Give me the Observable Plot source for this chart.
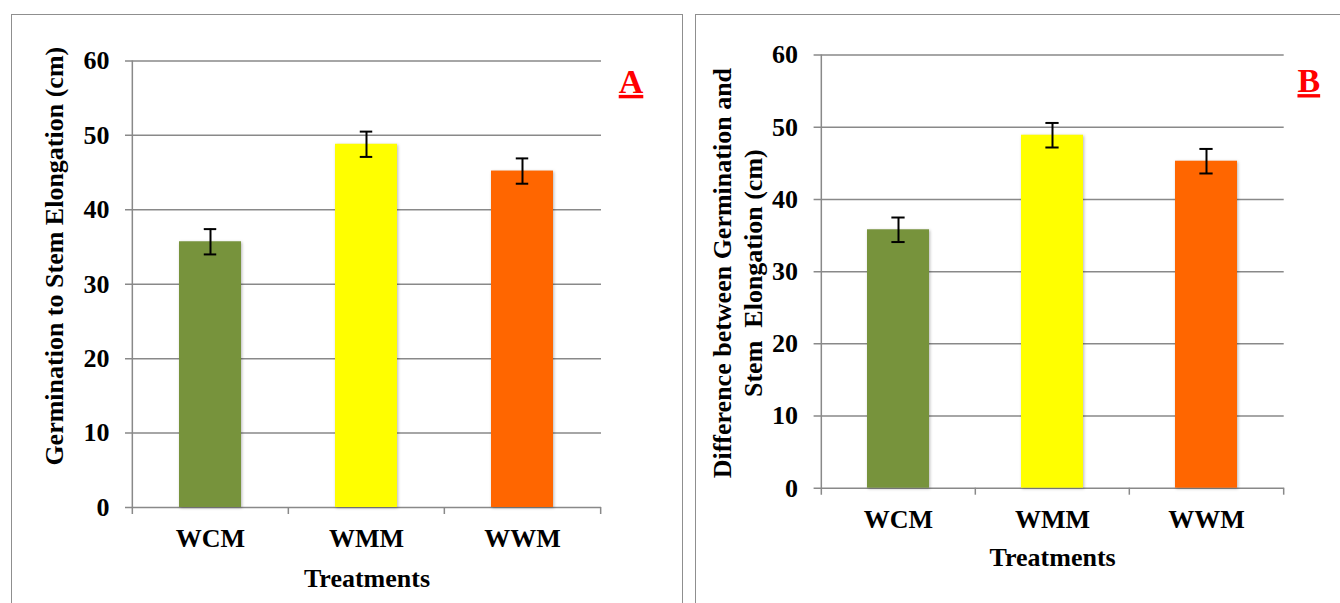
<!DOCTYPE html>
<html><head><meta charset="utf-8">
<script src="https://cdn.jsdelivr.net/npm/d3@7"></script>
<script src="https://cdn.jsdelivr.net/npm/@observablehq/plot@0.6"></script>
<style>
html,body{margin:0;padding:0;background:#fff;}
body{width:1340px;height:603px;overflow:hidden;position:relative;font-family:"Liberation Serif","Times New Roman",serif;}
.box{position:absolute;border:1.5px solid #8f8f8f;box-sizing:border-box;}
.panel{position:absolute;top:0;}
.panel g[aria-label="bar"] rect{filter:drop-shadow(1.5px 1.5px 1.5px rgba(0,0,0,0.28));}
</style></head><body>
<div class="box" style="left:11px;top:14px;width:672px;height:700px"></div>
<div class="box" style="left:695px;top:14px;width:700px;height:700px"></div>
<div id="A" class="panel" style="left:0px"></div>
<div id="B" class="panel" style="left:690px"></div>
<script>
const treatments = ["WCM", "WMM", "WWM"];
const barColors = ["#77933C", "#FFFF00", "#FF6600"];
const meansA = [35.7, 48.8, 45.2];
const errorsA = [1.7, 1.7, 1.7];
const meansB = [35.8, 48.9, 45.3];
const errorsB = [1.7, 1.7, 1.7];
const yTicks = [0, 10, 20, 30, 40, 50, 60];
const xTitle = "Treatments";
const yTitleA = "Germination to Stem Elongation (cm)";
const yTitleB = "Difference between Germination and\nStem  Elongation (cm)";

const FONT = '"Liberation Serif", "Times New Roman", serif';
const GRID = "#898989";

function panel(cfg) {
  const rows = treatments.map((t, i) => ({
    t, v: cfg.means[i], lo: cfg.means[i] - cfg.errs[i], hi: cfg.means[i] + cfg.errs[i]
  }));
  const fw = cfg.width - cfg.ml - cfg.mr;
  const fh = cfg.height - cfg.mt - cfg.mb;
  const step = fw / treatments.length;
  const bw = step * 0.4;
  const capInset = (bw - 13) / 2;
  const tickStyle = {stroke: GRID, strokeWidth: 1.5, insetTop: fh, insetBottom: -7};
  const svg = Plot.plot({
    width: cfg.width, height: cfg.height,
    marginTop: cfg.mt, marginBottom: cfg.mb, marginLeft: cfg.ml, marginRight: cfg.mr,
    style: {fontFamily: FONT, fontWeight: "bold", fontSize: "26px", color: "#000", background: "transparent", overflow: "visible"},
    x: {domain: treatments, paddingInner: 0.6, paddingOuter: 0.3},
    y: {domain: [0, 60]},
    color: {domain: treatments, range: barColors},
    marks: [
      Plot.ruleY(yTicks, {y: d => d, stroke: GRID, strokeWidth: 1.5, insetLeft: -7}),
      Plot.barY(rows, {x: "t", y: "v", fill: "t"}),
      Plot.ruleX([treatments[0]], {x: d => d, dx: -step / 2, stroke: GRID, strokeWidth: 1.5, insetBottom: -7}),
      Plot.ruleX(treatments.slice(1), {x: d => d, dx: -step / 2, ...tickStyle}),
      Plot.ruleX(treatments.slice(-1), {x: d => d, dx: step / 2, ...tickStyle}),
      Plot.ruleX(rows, {x: "t", y1: "lo", y2: "hi", stroke: "#000", strokeWidth: 2}),
      Plot.tickY(rows, {x: "t", y: "hi", stroke: "#000", strokeWidth: 2, insetLeft: capInset, insetRight: capInset}),
      Plot.tickY(rows, {x: "t", y: "lo", stroke: "#000", strokeWidth: 2, insetLeft: capInset, insetRight: capInset}),
      Plot.axisY({ticks: yTicks, tickSize: 0, tickPadding: 23, label: null, fontSize: 26, fontWeight: "bold", fill: "#000"}),
      Plot.axisX({tickSize: 0, tickPadding: 21, label: null, fontSize: 26, fontWeight: "bold", fill: "#000"}),
      Plot.text([xTitle], {text: d => d, frameAnchor: "bottom", textAnchor: "middle", lineAnchor: "bottom", dy: cfg.xTitleDy, fontSize: 26, fontWeight: "bold", fill: "#000"}),
      Plot.text([cfg.yTitle], {text: d => d, frameAnchor: "left", textAnchor: "middle", rotate: -90, lineAnchor: "bottom", lineHeight: 1.17, dx: cfg.yTitleDx, dy: cfg.yTitleDy, fontSize: 26, fontWeight: "bold", fill: "#000"}),
      Plot.text([cfg.letter], {text: d => d, frameAnchor: "top-right", lineAnchor: "bottom", textAnchor: "middle", dx: cfg.letterDx, dy: cfg.letterDy, fontSize: 34, fontWeight: "bold", fill: "#FF0000"})
    ]
  });
  svg.querySelectorAll("text").forEach(el => {
    if (el.textContent === cfg.letter) {
      el.style.textDecoration = "underline";
      el.style.textDecorationThickness = "3px";
      el.style.textUnderlineOffset = "3px";
    }
    if (el.textContent.includes("Elongation")) el.style.whiteSpace = "pre";
  });
  document.getElementById(cfg.id).appendChild(svg);
}

panel({id: "A", means: meansA, errs: errorsA, yTitle: yTitleA, letter: "A",
  width: 690, height: 603, mt: 60.4, mb: 96, ml: 132, mr: 89,
  xTitleDy: 79.5, yTitleDx: -69.5, yTitleDy: -28, letterDx: 29.5, letterDy: 32});
panel({id: "B", means: meansB, errs: errorsB, yTitle: yTitleB, letter: "B",
  width: 650, height: 603, mt: 54.6, mb: 115.3, ml: 130.6, mr: 56.3,
  xTitleDy: 77.7, yTitleDx: -59.6, yTitleDy: 1.5, letterDx: 24.6, letterDy: 37});
</script>
</body></html>
